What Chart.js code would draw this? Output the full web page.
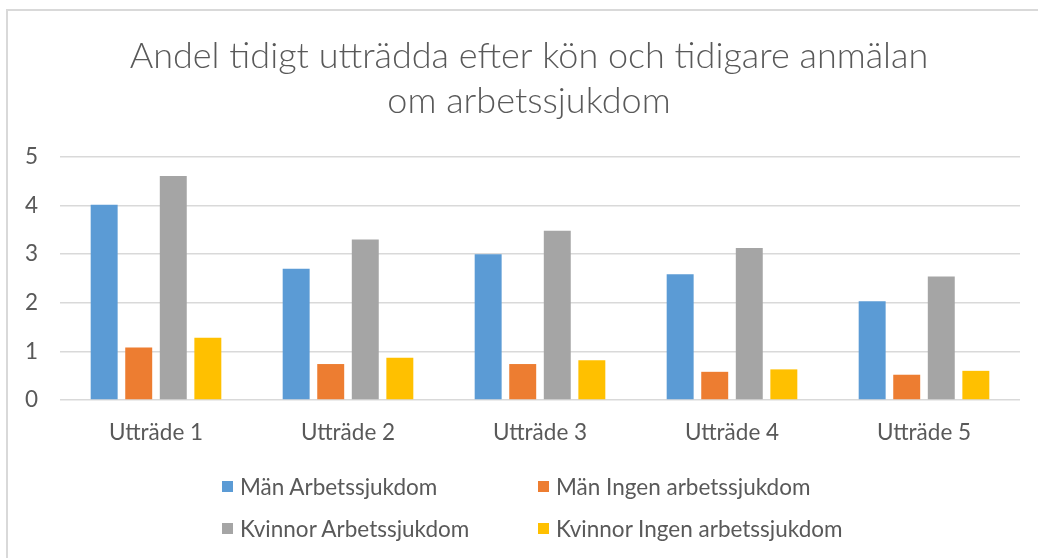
<html>
  <head>
    <meta charset="utf-8">
    <script src="https://cdn.jsdelivr.net/npm/chart.js@4.4.1/dist/chart.umd.min.js"></script>
    <style>
      body { margin: 0; background: #fff; overflow: hidden; }
      #frame {
        position: absolute; left: 6px; top: 9px; width: 1040px; height: 560px;
        border-top: 2px solid #d9d9d9; border-left: 2px solid #d9d9d9;
      }
      #wrap { position: absolute; left: 0; top: 0; width: 1038px; height: 558px; }
      #legend {
        position: absolute; left: 222px; top: 472px;
        display: grid; grid-template-columns: 316px 320px; row-gap: 14px;
        font-family: Lato, "Open Sans", sans-serif; font-size: 22.5px; color: #595959;
      }
      #legend div { display: flex; align-items: center; height: 28px; }
      #legend span.box { width: 11px; height: 11px; margin-right: 7px; display: inline-block; }
    </style>
  </head>
  <body>
    <div id="frame"></div>
    <div id="wrap"><canvas id="myChart" width="1038" height="558"></canvas></div>
    <div id="legend"></div>
  </body>
  <script>
    const categories = ['Utträde 1', 'Utträde 2', 'Utträde 3', 'Utträde 4', 'Utträde 5'];
    const seriesNames = ['Män Arbetssjukdom', 'Män Ingen arbetssjukdom', 'Kvinnor Arbetssjukdom', 'Kvinnor Ingen arbetssjukdom'];
    const manArbetssjukdom = [4.02, 2.70, 3.00, 2.59, 2.03];
    const manIngen = [1.08, 0.74, 0.74, 0.58, 0.52];
    const kvinnorArbetssjukdom = [4.61, 3.30, 3.48, 3.13, 2.54];
    const kvinnorIngen = [1.28, 0.87, 0.82, 0.63, 0.60];
    const colors = ['#5B9BD5', '#ED7D31', '#A5A5A5', '#FFC000'];
    const titleLines = ['Andel tidigt utträdda efter kön och tidigare anmälan', 'om arbetssjukdom'];

    const values = [manArbetssjukdom, manIngen, kvinnorArbetssjukdom, kvinnorIngen];
    const textColor = '#595959';
    const fontFamily = 'Lato, "Open Sans", sans-serif';

    var ctx = document.getElementById('myChart').getContext('2d');
    var myChart = new Chart(ctx, {
      type: 'bar',
      data: {
        labels: categories,
        datasets: seriesNames.map((name, i) => ({
          label: name,
          data: values[i],
          backgroundColor: colors[i],
          borderWidth: 0,
          categoryPercentage: 0.72,
          barPercentage: 0.78
        }))
      },
      options: {
        responsive: false,
        animation: false,
        layout: { padding: { top: 22, left: 38, right: 18, bottom: 93 } },
        plugins: {
          legend: { display: false },
          tooltip: { enabled: false },
          title: {
            display: true,
            text: titleLines,
            color: textColor,
            font: { family: fontFamily, size: 36, weight: 300, lineHeight: 1.25 },
            padding: { top: 12, bottom: 33 }
          }
        },
        scales: {
          x: {
            grid: { display: false, drawTicks: false },
            border: { display: false },
            ticks: { color: textColor, font: { family: fontFamily, size: 22.5 }, padding: 19 }
          },
          y: {
            min: 0,
            max: 5,
            grid: { color: '#d9d9d9', lineWidth: 1.5, drawTicks: false },
            border: { display: false },
            // labels sit left of the plot, outside the narrow axis box
            ticks: { stepSize: 1, color: textColor, font: { family: fontFamily, size: 22.5 }, mirror: true, padding: -35 },
            afterFit: (scale) => { scale.width = 22; }
          }
        }
      }
    });

    // legend laid out as a 2x2 grid like the original
    const legend = document.getElementById('legend');
    seriesNames.forEach((name, i) => {
      const item = document.createElement('div');
      item.innerHTML = '<span class="box" style="background:' + colors[i] + '"></span>' + name;
      legend.appendChild(item);
    });
  </script>
</html>
